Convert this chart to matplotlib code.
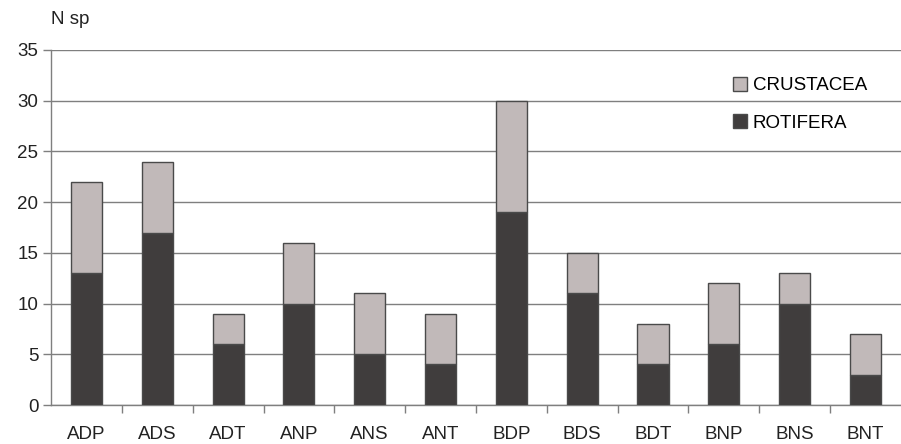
import numpy as np
import matplotlib.pyplot as plt
from matplotlib.patches import Patch

plt.rcParams['font.family'] = ['Liberation Sans', 'DejaVu Sans']

# Data
sites = ['ADP', 'ADS', 'ADT', 'ANP', 'ANS', 'ANT', 'BDP', 'BDS', 'BDT', 'BNP', 'BNS', 'BNT']
rotifera = [13, 17, 6, 10, 5, 4, 19, 11, 4, 6, 10, 3]
crustacea = [9, 7, 3, 6, 6, 5, 11, 4, 4, 6, 3, 4]

dark = '#403d3d'
light = '#c1b9b9'
edge = '#4a4a4a'
grid_col = '#7f7f7f'
fs = 13.5

fig = plt.figure(figsize=(9.01, 4.44), dpi=100)
ax = fig.add_axes([51 / 901, 1 - 405 / 444, 850 / 901, 355 / 444])

x = np.arange(len(sites))
w = 0.44
ax.bar(x, rotifera, w, color=dark, edgecolor=edge, linewidth=1, zorder=3)
ax.bar(x, crustacea, w, bottom=rotifera, color=light, edgecolor=edge, linewidth=1, zorder=3)

ax.set_xlim(-0.5, len(sites) - 0.5)
ax.set_ylim(0, 35)
ax.set_yticks(range(0, 36, 5))
ax.yaxis.grid(True, color=grid_col, linewidth=1)
ax.set_axisbelow(True)

ax.set_xticks(x)
ax.set_xticklabels(sites)
ax.set_xticks(np.arange(0.5, len(sites) - 0.5, 1), minor=True)
ax.tick_params(axis='x', which='major', length=0, pad=15, labelsize=fs, labelcolor='#222222')
ax.tick_params(axis='x', which='minor', length=6, width=1, color=grid_col)
ax.tick_params(axis='y', length=6, width=1, color=grid_col, labelsize=fs, labelcolor='#222222', pad=3)

for s in ['top', 'right']:
    ax.spines[s].set_visible(False)
for s in ['left', 'bottom']:
    ax.spines[s].set_color(grid_col)
    ax.spines[s].set_linewidth(1)

fig.text(51 / 901, 1 - 20 / 444, 'N sp', fontsize=fs, color='#222222', va='center', ha='left')

handles = [Patch(facecolor=light, edgecolor=edge), Patch(facecolor=dark, edgecolor=edge)]
fig.legend(handles, ['CRUSTACEA', 'ROTIFERA'], loc='upper left',
           bbox_to_anchor=(733 / 901, 1 - 77 / 444), frameon=False,
           fontsize=fs, handlelength=0.75, handleheight=0.75, handletextpad=0.3,
           labelspacing=1.05, borderpad=0, borderaxespad=0)

fig.savefig('out.png', dpi=100)
